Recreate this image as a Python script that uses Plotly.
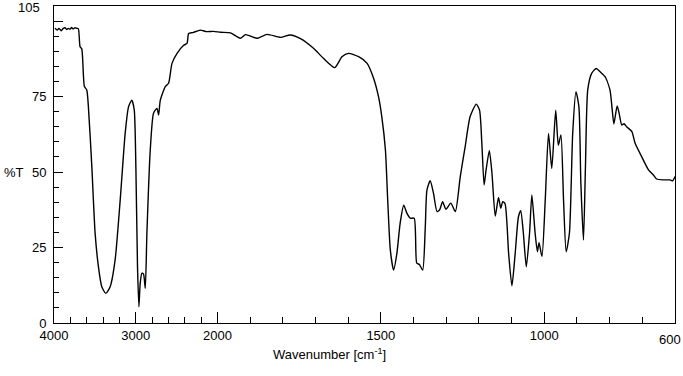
import plotly.graph_objects as go

# IR spectrum (wavenumber in cm-1, %T)
wavenumber = [3988, 3960, 3940, 3926, 3910, 3890, 3865, 3845, 3825, 3804, 3785, 3765, 3742, 3720, 3702,
              3681, 3660, 3628, 3599, 3579, 3537, 3497, 3456, 3415, 3366, 3313, 3252, 3190, 3129, 3088,
              3047, 3018, 2998, 2978, 2961, 2945, 2924, 2904, 2883, 2863, 2822, 2782, 2740, 2720, 2699,
              2638, 2598, 2556, 2494, 2413, 2372, 2352, 2300, 2209, 2130, 2049, 1990,
              1960, 1930, 1914, 1879, 1848, 1807, 1777, 1746, 1706, 1675, 1641, 1619, 1599, 1568, 1542,
              1522, 1507, 1497, 1486, 1479, 1471, 1461, 1451, 1441, 1430, 1420, 1410, 1398, 1390, 1382,
              1372, 1364, 1359, 1349, 1339, 1328, 1320, 1311, 1301, 1286, 1272, 1257, 1242, 1227, 1208,
              1198, 1191, 1184, 1178, 1168, 1160, 1150, 1140, 1133, 1127, 1120, 1109, 1099, 1089, 1079,
              1072, 1064, 1055, 1045, 1038, 1028, 1021, 1016, 1007, 997, 987, 977, 965, 957, 949, 941,
              933, 923, 913, 903, 894, 888, 880, 874, 867, 855, 841, 829, 814, 799, 792, 787, 777, 771,
              763, 756, 748, 732, 722, 702, 681, 666, 656, 635, 615, 607, 600]
transmittance = [97.6, 97.0, 97.6, 97.2, 96.8, 97.5, 97.8, 97.2, 97.6, 97.3, 97.9, 97.4, 97.8, 97.6, 97.5,
                 91.5, 90.8, 78.3, 77.2, 71.6, 51.8, 29.8, 18.6, 12.0, 9.8, 12.0, 20.9, 40.7, 62.8, 71.6,
                 73.8, 70.6, 51.8, 18.6, 5.4, 13.2, 16.5, 16.2, 11.5, 29.7, 57.3, 69.5, 71.1, 68.9, 73.8,
                 78.3, 79.4, 86.0, 89.3, 92.0, 92.6, 95.9, 96.2, 97.0, 96.5, 96.6, 96.3,
                 96.1, 94.3, 95.5, 94.3, 95.6, 94.6, 95.4, 94.2, 91.0, 87.6, 84.6, 88.2, 89.3, 88.2, 86.0,
                 81.0, 74.9, 68.3, 57.3, 40.7, 24.2, 17.5, 23.0, 33.0, 39.0, 36.3, 34.7, 34.7, 19.8, 19.4,
                 17.5, 31.8, 44.0, 47.1, 43.0, 36.9, 37.5, 40.2, 37.7, 39.7, 36.9, 48.5, 58.4, 68.3, 72.5,
                 70.5, 59.5, 45.7, 50.7, 57.1, 49.6, 35.4, 41.6, 38.0, 40.2, 39.5, 23.0, 12.3, 23.0, 35.2,
                 37.2, 29.8, 18.6, 29.8, 42.4, 29.8, 23.6, 26.6, 22.0, 40.7, 62.8, 51.2, 70.5, 58.9, 62.3, 40.7,
                 23.6, 29.8, 62.8, 76.6, 71.6, 46.3, 27.5, 51.8, 77.2, 82.7, 84.3, 83.2, 81.6, 77.2, 70.5, 65.9, 71.9, 69.5,
                 65.6, 66.0, 65.0, 63.4, 59.5, 55.1, 50.7, 49.0, 47.7, 47.4, 47.4, 47.1, 48.5]

x_major = [4000, 3000, 2000, 1500, 1000, 600]
x_major_labels = ["4000", "3000", "2000", "1500", "1000", ""]
x_minor = [3800, 3600, 3400, 3200, 2800, 2600, 2400, 2200, 1900, 1800, 1700, 1600,
           1400, 1300, 1200, 1100, 900, 800, 700]
y_major = [0, 25, 50, 75, 100]
y_major_labels = ["0", "25", "50", "75", ""]
y_minor = [5, 10, 15, 20, 30, 35, 40, 45, 55, 60, 65, 70, 80, 85, 90, 95]
x_end_label = "600"
y_top_label = "105"


def axis_pos(w):
    # split wavenumber scale: 4000-2000 compressed 4x relative to 2000-600
    return w if w <= 2000 else 2000 + (w - 2000) / 4.0


fig = go.Figure()
fig.add_trace(go.Scatter(
    x=[axis_pos(w) for w in wavenumber], y=transmittance, mode="lines",
    line=dict(color="black", width=1.4, shape="spline", smoothing=0.6),
    showlegend=False, hoverinfo="skip"))

font = dict(family="Liberation Sans, Arial, sans-serif", size=13, color="black")

fig.update_layout(
    width=683, height=376,
    margin=dict(l=54, r=8, t=6, b=53),
    paper_bgcolor="white", plot_bgcolor="white",
    font=font,
    xaxis=dict(
        range=[axis_pos(4000), axis_pos(600)], automargin=False,
        tickmode="array", tickvals=[axis_pos(v) for v in x_major], ticktext=x_major_labels,
        ticks="inside", ticklen=11, tickwidth=1, tickcolor="black",
        minor=dict(tickmode="array", tickvals=[axis_pos(v) for v in x_minor],
                   ticks="inside", ticklen=6, tickwidth=1, tickcolor="black"),
        showgrid=False, zeroline=False,
        showline=True, linecolor="black", linewidth=1, mirror=True,
        tickfont=font),
    yaxis=dict(
        range=[0, 105], automargin=False,
        tickmode="array", tickvals=y_major, ticktext=y_major_labels,
        ticks="inside", ticklen=9, tickwidth=1, tickcolor="black",
        minor=dict(tickmode="array", tickvals=y_minor,
                   ticks="inside", ticklen=5, tickwidth=1, tickcolor="black"),
        showgrid=False, zeroline=False,
        showline=True, linecolor="black", linewidth=1, mirror=True,
        ticklabelstandoff=4, tickfont=font),
    annotations=[
        dict(text="%T", xref="paper", yref="y", x=-0.0837, y=50, xanchor="left", yanchor="middle",
             showarrow=False, font=font),
        dict(text="Wavenumber [cm<sup>-1</sup>]", xref="paper", yref="paper", x=0.444, y=-0.098,
             xanchor="center", yanchor="middle", showarrow=False, font=font),
        dict(text=x_end_label, xref="paper", yref="paper", x=1.0, y=-0.052,
             xanchor="center", yanchor="middle", xshift=-5, showarrow=False, font=font),
        dict(text=y_top_label, xref="paper", yref="paper", x=0.0, y=1.0,
             xanchor="right", yanchor="middle", xshift=-12, yshift=-1, showarrow=False, font=font),
    ],
)

fig.write_html("out.html", config={"displayModeBar": False},
               post_script="document.body.style.margin='0';")
